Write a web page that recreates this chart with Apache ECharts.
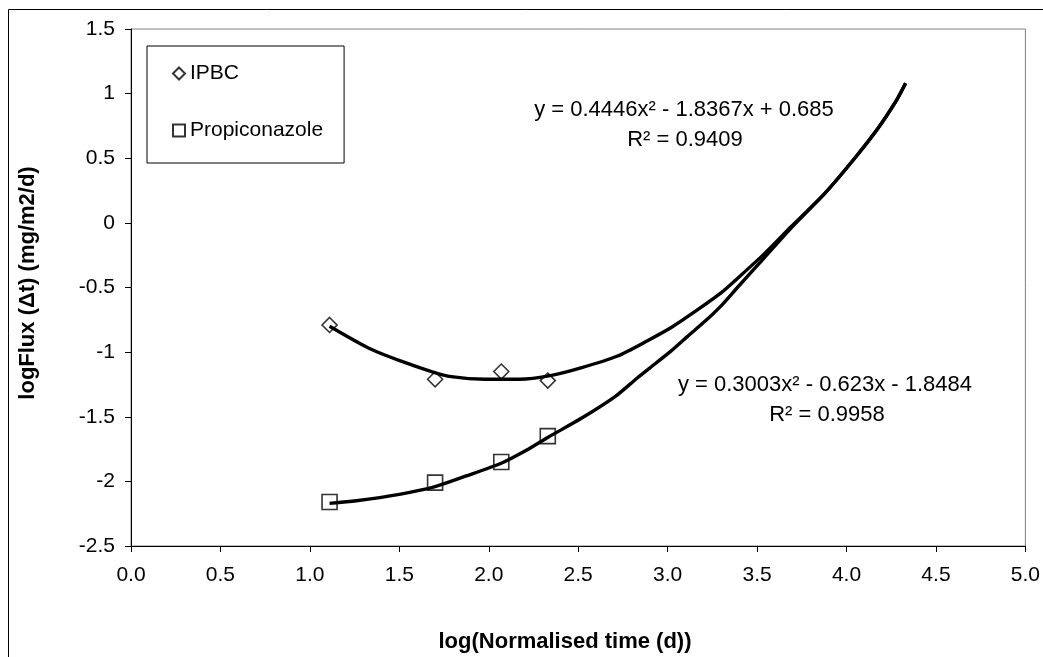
<!DOCTYPE html>
<html>
<head>
<meta charset="utf-8">
<script src="https://cdn.jsdelivr.net/npm/echarts@6/dist/echarts.min.js"></script>
<style>html,body{margin:0;padding:0;background:#fff;}#c{width:1043px;height:657px;}</style>
</head>
<body>
<div id="c"></div>
<script>
// Measured data points (log normalised time, logFlux)
const timeX = [1.11, 1.70, 2.07, 2.33];
const ipbcY = [-0.79, -1.21, -1.15, -1.22];
const propY = [-2.16, -2.01, -1.85, -1.65];

// Trend lines
const ipbcTrendX = [1.11, 1.33, 1.51, 1.68, 1.79, 1.98, 2.17, 2.35, 2.52, 2.72, 2.89, 3.02, 3.17, 3.30, 3.39, 3.54, 3.69, 3.88, 4.04, 4.17, 4.28, 4.33];
const ipbcTrendY = [-0.80, -0.97, -1.07, -1.15, -1.19, -1.21, -1.21, -1.18, -1.12, -1.03, -0.91, -0.81, -0.67, -0.54, -0.43, -0.24, -0.03, 0.23, 0.49, 0.72, 0.95, 1.08];
const propTrendX = [1.11, 1.26, 1.50, 1.70, 1.87, 2.07, 2.21, 2.33, 2.52, 2.71, 2.83, 2.93, 3.02, 3.11, 3.21, 3.30, 3.39, 3.54, 3.69, 3.88, 4.04, 4.17, 4.28, 4.33];
const propTrendY = [-2.17, -2.15, -2.10, -2.04, -1.96, -1.86, -1.76, -1.66, -1.51, -1.34, -1.20, -1.09, -0.99, -0.88, -0.76, -0.64, -0.50, -0.27, -0.04, 0.23, 0.49, 0.72, 0.95, 1.08];

const seriesNames = ['IPBC', 'Propiconazole'];
const eq1 = ['y = 0.4446x\u00B2 - 1.8367x + 0.685', 'R\u00B2 = 0.9409'];
const eq2 = ['y = 0.3003x\u00B2 - 0.623x - 1.8484', 'R\u00B2 = 0.9958'];
const xTitle = 'log(Normalised time (d))';
const yTitle = 'logFlux (\u0394t) (mg/m2/d)';

const zip = (xs, ys) => xs.map((x, i) => [x, ys[i]]);
const FONT = '"Liberation Sans", Arial, sans-serif';

const chart = echarts.init(document.getElementById('c'), null, {renderer: 'canvas'});
const txt = (text, x, y, opts) => Object.assign({
  type: 'text', x: x, y: y,
  style: Object.assign({text: text, fill: '#000', font: '22px ' + FONT, align: 'center', verticalAlign: 'middle'}, opts || {})
});
chart.setOption({
  animation: false,
  backgroundColor: '#fff',
  grid: {left: 131, top: 29, width: 898, height: 517, show: true, borderColor: '#808080', borderWidth: 1, backgroundColor: 'transparent'},
  xAxis: {
    type: 'value', min: 0, max: 5, interval: 0.5,
    axisLine: {show: true, onZero: false, lineStyle: {color: '#000', width: 1}},
    axisTick: {show: true, inside: false, length: 6, lineStyle: {color: '#000'}},
    axisLabel: {color: '#000', fontSize: 21, fontFamily: FONT, margin: 19, formatter: v => v.toFixed(1)},
    splitLine: {show: false}
  },
  yAxis: {
    type: 'value', min: -2.5, max: 1.5, interval: 0.5,
    axisLine: {show: true, onZero: false, lineStyle: {color: '#000', width: 1}},
    axisTick: {show: true, inside: false, length: 6, lineStyle: {color: '#000'}},
    axisLabel: {color: '#000', fontSize: 21, fontFamily: FONT, margin: 16, formatter: v => String(v)},
    splitLine: {show: false}
  },
  legend: {
    data: seriesNames,
    orient: 'vertical', left: 147, top: 46,
    itemWidth: 12, itemHeight: 12, itemGap: 36, itemTextGap: 9,
    padding: [17, 21, 22, 25],
    borderColor: '#000', borderWidth: 1, borderRadius: 0, backgroundColor: '#fff',
    textStyle: {color: '#000', fontSize: 21, fontFamily: FONT},
    selectedMode: false
  },
  series: [
    {name: seriesNames[0], type: 'scatter', data: zip(timeX, ipbcY), symbol: 'diamond', symbolSize: 15,
     itemStyle: {color: 'rgba(255,255,255,0)', borderColor: '#000', borderWidth: 1.6}, z: 3},
    {name: seriesNames[1], type: 'scatter', data: zip(timeX, propY), symbol: 'rect', symbolSize: 15,
     itemStyle: {color: 'rgba(255,255,255,0)', borderColor: '#000', borderWidth: 1.6}, z: 3},
    {name: 'IPBC trend', type: 'line', data: zip(ipbcTrendX, ipbcTrendY), showSymbol: false, smooth: 0.25,
     lineStyle: {color: '#000', width: 3.4}, z: 2},
    {name: 'Propiconazole trend', type: 'line', data: zip(propTrendX, propTrendY), showSymbol: false, smooth: 0.25,
     lineStyle: {color: '#000', width: 3.4}, z: 2}
  ],
  graphic: [
    {type: 'rect', shape: {x: 8.5, y: 9.5, width: 1200, height: 900}, style: {fill: 'none', stroke: '#000', lineWidth: 1}, z: -10},
    txt(eq1[0], 684, 110),
    txt(eq1[1], 685, 140),
    txt(eq2[0], 825, 385),
    txt(eq2[1], 827, 415),
    txt(xTitle, 565, 642, {font: 'bold 22px ' + FONT}),
    Object.assign(txt(yTitle, 28, 283, {font: 'bold 22px ' + FONT}), {rotation: Math.PI / 2})
  ]
});
</script>
</body>
</html>
